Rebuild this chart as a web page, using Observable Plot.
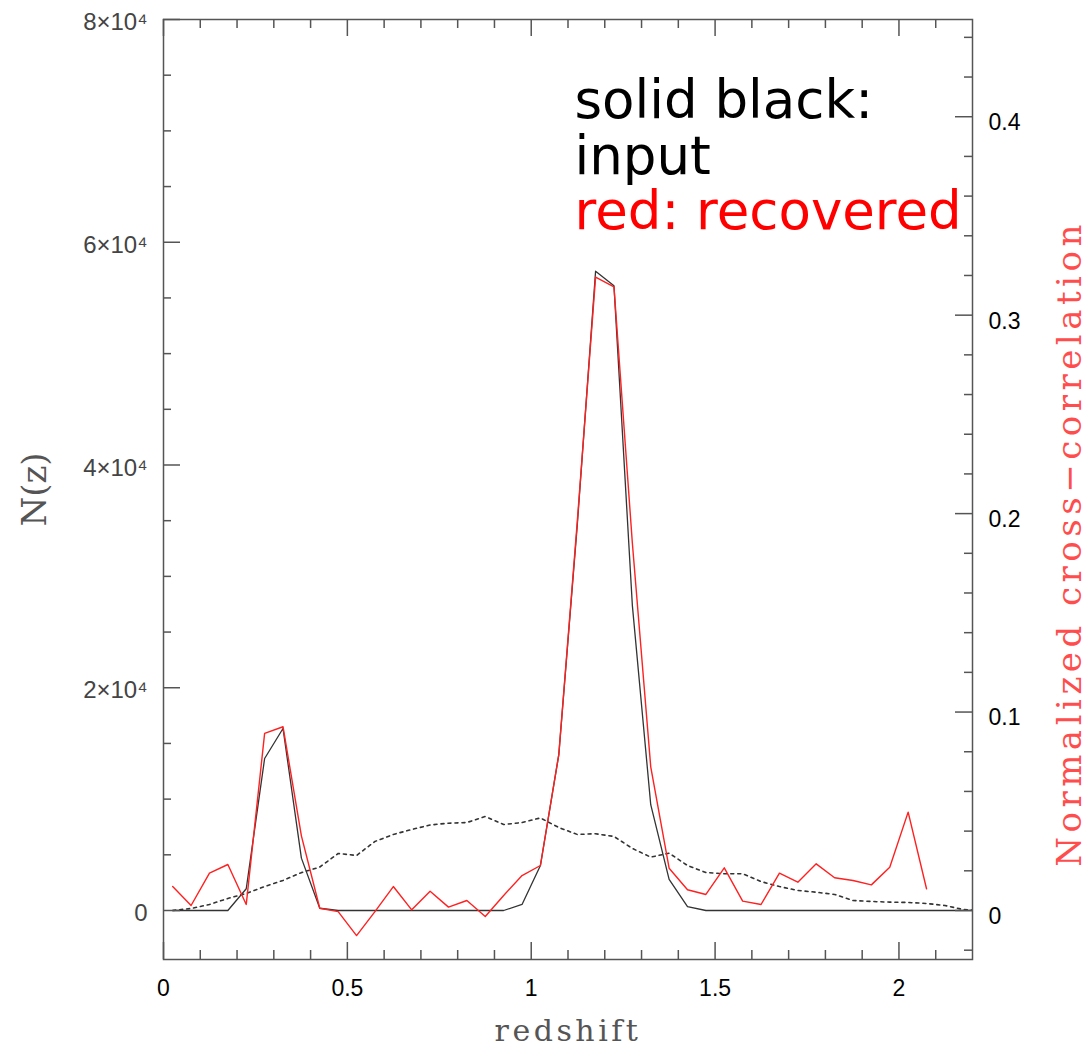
<!DOCTYPE html>
<html><head><meta charset="utf-8">
<script src="https://cdn.jsdelivr.net/npm/d3@7"></script>
<script src="https://cdn.jsdelivr.net/npm/@observablehq/plot@0.6"></script>
<style>body{margin:0;background:#fff}</style>
</head><body><div id="chart"></div>
<script>
// ---- data ----
const redshift = [0.025,0.075,0.125,0.175,0.225,0.275,0.325,0.375,0.425,0.475,0.525,0.575,0.625,0.675,0.725,0.775,0.825,0.875,0.925,0.975,1.025,1.075,1.125,1.175,1.225,1.275,1.325,1.375,1.425,1.475,1.525,1.575,1.625,1.675,1.725,1.775,1.825,1.875,1.925,1.975,2.025,2.075,2.125,2.175,2.225];
const inputN = [0,0,0,0,1950,13650,16340,4700,200,0,0,0,0,0,0,0,0,0,0,540,4040,14000,34500,57400,56100,27400,9500,2800,350,0,0,0,0,0,0,0,0,0,0,0,0,0,0,0,0];
const recoveredN = [2150,450,3350,4130,540,15900,16500,6700,200,-100,-2250,-100,2150,60,1730,300,900,-540,1350,3140,4040,14000,34800,56870,56000,33000,12900,3800,1860,1440,3830,840,540,3350,2540,4190,2940,2690,2300,3890,8830,1950,null,null,null];
const dottedN = [0,180,540,1080,1530,2150,2700,3400,3900,5120,4940,6200,6830,7270,7680,7840,7900,8440,7720,7900,8310,7450,6830,6890,6650,5570,4790,5150,4040,3410,3300,3300,2600,2150,1800,1640,1440,900,810,750,720,630,450,90,0];
const xMajorTicks = [0, 0.5, 1, 1.5, 2];
const xMinorTicks = [0.1,0.2,0.3,0.4,0.6,0.7,0.8,0.9,1.1,1.2,1.3,1.4,1.6,1.7,1.8,1.9,2.1];
const yLeftMajorTicks = [0, 20000, 40000, 60000, 80000];
const yLeftMinorTicks = [5000,10000,15000,25000,30000,35000,45000,50000,55000,65000,70000,75000];
const yRightMajorTicks = [0, 0.1, 0.2, 0.3, 0.4];
const yRightMinorTicks = [-0.02,0.02,0.04,0.06,0.08,0.12,0.14,0.16,0.18,0.22,0.24,0.26,0.28,0.32,0.34,0.36,0.38,0.42,0.44];
const legendLines = ["solid black:", "input", "red: recovered"];
const legendColors = ["#000", "#000", "#ff0000"];
const xTitle = "redshift";
const yTitle = "N(z)";
const y2Title = "Normalized cross\u2212correlation";

// ---- layout ----
const W = 1090, H = 1049, mL = 163, mR = 118, mT = 19, mB = 90;
const innerW = W - mL - mR, innerH = H - mT - mB;
const RIGHT_TO_LEFT = 178177; // right-axis unit -> N(z) unit
const toLeft = r => r * RIGHT_TO_LEFT;

const rows = redshift.map((z, i) => ({z, input: inputN[i], recovered: recoveredN[i], dotted: dottedN[i]}));

const tk = {stroke: "#555", strokeWidth: 1.5};
const bottomTicks = (d, len) => Plot.ruleX(d, {x: v => v, insetTop: innerH - len, ...tk});
const topTicks = (d, len) => Plot.ruleX(d, {x: v => v, insetBottom: innerH - len, ...tk});
const leftTicks = (d, len) => Plot.ruleY(d, {y: v => v, insetRight: innerW - len, ...tk});
const rightTicks = (d, len) => Plot.ruleY(d, {y: v => v, insetLeft: innerW - len, ...tk});

const sup4 = "\u2074";
const leftFmt = d => d === 0 ? "0" : `${d / 10000}\u00d710${sup4}`;
const rightFmt = d => { const r = Math.round(d / RIGHT_TO_LEFT * 100) / 100; return r === 0 ? "0" : String(r); };

const legendMarks = legendLines.map((s, i) =>
  Plot.text([s], {text: d => d, frameAnchor: "top-left", dx: 411, dy: 61 + i * 55.5, lineAnchor: "top", textAnchor: "start",
    fontSize: 53, fontFamily: "'DejaVu Sans', sans-serif", fill: legendColors[i]}));

const chart = Plot.plot({
  width: W, height: H,
  marginLeft: mL, marginRight: mR, marginTop: mT, marginBottom: mB,
  style: {fontFamily: "'Liberation Sans', Arial, sans-serif", background: "#fff"},
  x: {domain: [0, 2.2]},
  y: {domain: [-4400, 80000]},
  marks: [
    Plot.line(rows, {x: "z", y: "dotted", stroke: "#333", strokeWidth: 1.6, strokeDasharray: "3,4", clip: true}),
    Plot.line(rows, {x: "z", y: "input", stroke: "#333", strokeWidth: 1.3, clip: true}),
    Plot.line(rows, {x: "z", y: "recovered", stroke: "#ff2020", strokeWidth: 1.4, clip: true}),
    Plot.frame({stroke: "#555", strokeWidth: 1.5}),
    bottomTicks(xMajorTicks, 17), bottomTicks(xMinorTicks, 9),
    topTicks(xMajorTicks, 17), topTicks(xMinorTicks, 9),
    leftTicks(yLeftMajorTicks, 17), leftTicks(yLeftMinorTicks, 8),
    rightTicks(yRightMajorTicks.map(toLeft), 17), rightTicks(yRightMinorTicks.map(toLeft), 8),
    Plot.axisX(xMajorTicks, {anchor: "bottom", tickSize: 0, tickPadding: 20, fontSize: 23, fill: "#000", tickFormat: d => String(d), label: null}),
    Plot.axisY(yLeftMajorTicks, {anchor: "left", tickSize: 0, tickPadding: 16, fontSize: 24, fill: "#444", tickFormat: leftFmt, label: null, dy: 3}),
    Plot.axisY(yRightMajorTicks.map(toLeft), {anchor: "right", tickSize: 0, tickPadding: 16, fontSize: 23, fill: "#000", tickFormat: rightFmt, label: null, dy: 6}),
    Plot.text([yTitle], {text: d => d, frameAnchor: "left", textAnchor: "middle", lineAnchor: "middle", dx: -128, rotate: -90, fontSize: 34, fontFamily: "'DejaVu Serif', serif", fill: "#555"}),
    Plot.text([xTitle], {text: d => d, frameAnchor: "bottom", textAnchor: "middle", lineAnchor: "middle", dy: 72, fontSize: 30, fontFamily: "'DejaVu Serif', serif", fill: "#555"}),
    Plot.text([y2Title], {text: d => d, frameAnchor: "right", textAnchor: "middle", lineAnchor: "middle", dx: 98, dy: 54, rotate: -90, fontSize: 34, fontFamily: "'DejaVu Serif', serif", fill: "#ff4d4d"}),
    ...legendMarks
  ]
});
document.getElementById("chart").appendChild(chart);
// letter spacing to mimic the wide serif of the original axis titles
chart.querySelectorAll("text").forEach(t => {
  if (t.textContent === xTitle) t.style.letterSpacing = "3.5px";
  if (t.textContent === y2Title) t.style.letterSpacing = "4.5px";
});
</script>
</body></html>
